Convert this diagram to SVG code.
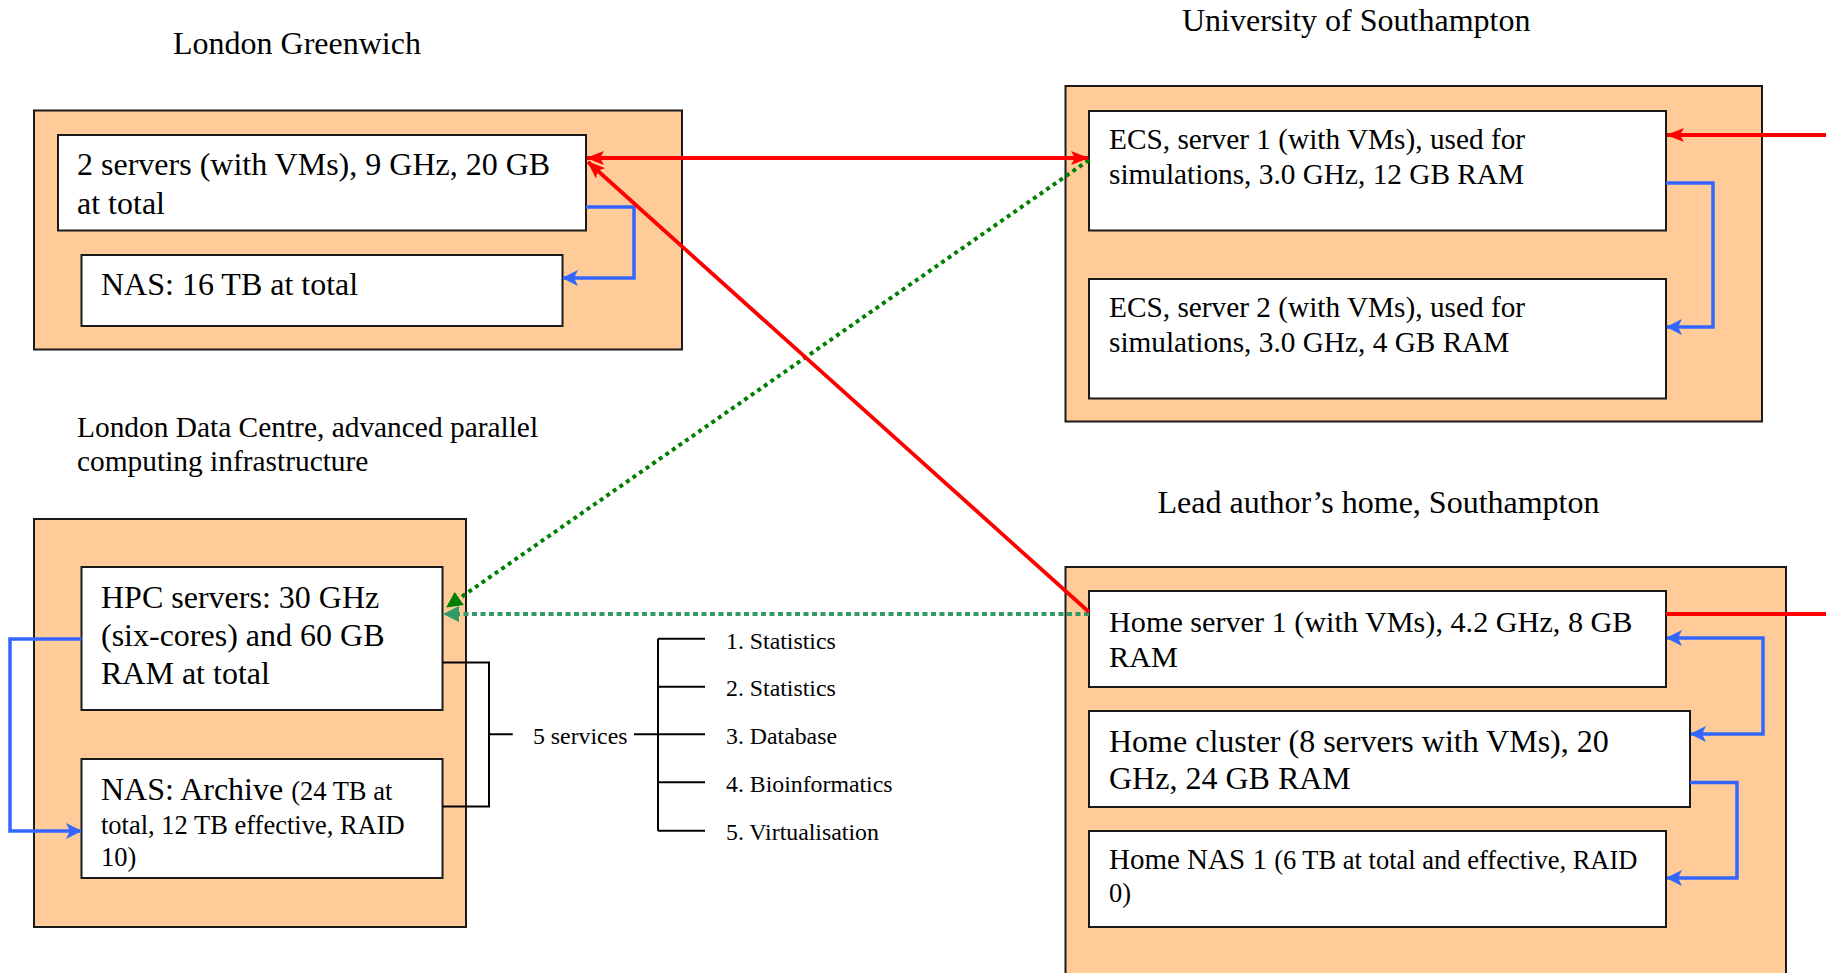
<svg xmlns="http://www.w3.org/2000/svg" width="1826" height="973" viewBox="0 0 1826 973">
  <defs>
    <style>
      .site { fill: #ffcc99; stroke: #1a1a1a; stroke-width: 2; }
      .box { fill: #ffffff; stroke: #1a1a1a; stroke-width: 2; }
      text { font-family: "Liberation Serif", "Times New Roman", serif; fill: #000; }
      .red { fill: none; stroke: #ff0000; stroke-width: 3.8; }
      .blue { fill: none; stroke: #3366ff; stroke-width: 3.5; }
      .green { fill: none; stroke: #008000; stroke-width: 4; stroke-dasharray: 4 4; }
      .sea { fill: none; stroke: #339966; stroke-width: 4; stroke-dasharray: 5 3.5; }
      .tree { fill: none; stroke: #000; stroke-width: 2; }
    </style>
    <marker id="ahRed" viewBox="0 0 18 14" refX="17" refY="7" markerWidth="18" markerHeight="14" markerUnits="userSpaceOnUse" orient="auto-start-reverse">
      <path d="M0,0 L18,7 L0,14 L4,7 z" fill="#ff0000"/>
    </marker>
    <marker id="ahBlue" viewBox="0 0 16 16" refX="15" refY="8" markerWidth="16" markerHeight="16" markerUnits="userSpaceOnUse" orient="auto-start-reverse">
      <path d="M0,0 L16,8 L0,16 L4,8 z" fill="#3366ff"/>
    </marker>
    <marker id="ahGreen" viewBox="0 0 16 16" refX="15" refY="8" markerWidth="16" markerHeight="16" markerUnits="userSpaceOnUse" orient="auto">
      <path d="M0,0 L16,8 L0,16 z" fill="#008000"/>
    </marker>
    <marker id="ahSea" viewBox="0 0 16 16" refX="15" refY="8" markerWidth="16" markerHeight="16" markerUnits="userSpaceOnUse" orient="auto">
      <path d="M0,0 L16,8 L0,16 z" fill="#339966"/>
    </marker>
  </defs>

  <rect width="1826" height="973" fill="#ffffff"/>

  <!-- London Greenwich -->
  <g id="greenwich">
    <text x="173" y="54" font-size="32">London Greenwich</text>
    <rect class="site" x="34" y="110.5" width="648" height="239"/>
    <g id="greenwich-servers">
      <rect class="box" x="58" y="135" width="528" height="95.5"/>
      <text x="77" y="175" font-size="32">2 servers (with VMs), 9 GHz, 20 GB</text>
      <text x="77" y="214" font-size="32">at total</text>
    </g>
    <g id="greenwich-nas">
      <rect class="box" x="81.5" y="255" width="481" height="71"/>
      <text x="101" y="295" font-size="32">NAS: 16 TB at total</text>
    </g>
  </g>

  <!-- University of Southampton -->
  <g id="southampton">
    <text x="1182" y="31" font-size="32">University of Southampton</text>
    <rect class="site" x="1065.5" y="86" width="696.5" height="335.5"/>
    <g id="ecs-server-1">
      <rect class="box" x="1089" y="111" width="577" height="119.5"/>
      <text x="1109" y="148.5" font-size="29.3">ECS, server 1 (with VMs), used for</text>
      <text x="1109" y="183.5" font-size="29.3">simulations, 3.0 GHz, 12 GB RAM</text>
    </g>
    <g id="ecs-server-2">
      <rect class="box" x="1089" y="279" width="577" height="119.5"/>
      <text x="1109" y="316.5" font-size="29.3">ECS, server 2 (with VMs), used for</text>
      <text x="1109" y="351.5" font-size="29.3">simulations, 3.0 GHz, 4 GB RAM</text>
    </g>
  </g>

  <!-- London Data Centre -->
  <g id="data-centre">
    <text x="77" y="437" font-size="29.4">London Data Centre, advanced parallel</text>
    <text x="77" y="471" font-size="29.4">computing infrastructure</text>
    <rect class="site" x="34" y="519" width="432" height="408"/>
    <g id="hpc-servers">
      <rect class="box" x="81.5" y="567" width="361" height="143"/>
      <text x="101" y="607.5" font-size="32">HPC servers: 30 GHz</text>
      <text x="101" y="646" font-size="32">(six-cores) and 60 GB</text>
      <text x="101" y="684" font-size="32">RAM at total</text>
    </g>
    <g id="nas-archive">
      <rect class="box" x="81.5" y="759" width="361" height="119"/>
      <text x="101" y="800" font-size="32">NAS: Archive <tspan font-size="26.5">(24 TB at</tspan></text>
      <text x="101" y="833.5" font-size="26.5">total, 12 TB effective, RAID</text>
      <text x="101" y="866" font-size="26.5">10)</text>
    </g>
  </g>

  <!-- Services list -->
  <g id="services">
    <text x="533" y="743.5" font-size="23.8">5 services</text>
    <text x="726" y="648.5" font-size="23.8">1. Statistics</text>
    <text x="726" y="696" font-size="23.8">2. Statistics</text>
    <text x="726" y="743.5" font-size="23.8">3. Database</text>
    <text x="726" y="792" font-size="23.8">4. Bioinformatics</text>
    <text x="726" y="839.5" font-size="23.8">5. Virtualisation</text>
  </g>

  <!-- Lead author's home -->
  <g id="home">
    <text x="1157.5" y="513" font-size="32">Lead author’s home, Southampton</text>
    <rect class="site" x="1065.5" y="567" width="720.5" height="420"/>
    <g id="home-server-1">
      <rect class="box" x="1089" y="591" width="577" height="96"/>
      <text x="1109" y="632" font-size="30.2">Home server 1 (with VMs), 4.2 GHz, 8 GB</text>
      <text x="1109" y="667" font-size="30.2">RAM</text>
    </g>
    <g id="home-cluster">
      <rect class="box" x="1089" y="711" width="601" height="96"/>
      <text x="1109" y="752" font-size="32">Home cluster (8 servers with VMs), 20</text>
      <text x="1109" y="788.5" font-size="32">GHz, 24 GB RAM</text>
    </g>
    <g id="home-nas-1">
      <rect class="box" x="1089" y="831" width="577" height="96"/>
      <text x="1109" y="868.5" font-size="29">Home NAS 1 <tspan font-size="26.5">(6 TB at total and effective, RAID</tspan></text>
      <text x="1109" y="902" font-size="26.5">0)</text>
    </g>
  </g>

  <!-- Connectors -->
  <g id="connectors">
    <!-- service bracket and tree -->
    <path class="tree" d="M442.5,662.6 H489 V806.5 H442.5 M489,734.3 H512.7"/>
    <path class="tree" d="M634,734.3 H705 M658,638.7 V830.7 M658,638.7 H705 M658,686.7 H705 M658,782.3 H705 M658,830.7 H705"/>

    <!-- local links -->
    <path class="blue" d="M586,207 H634 V278 H563" marker-end="url(#ahBlue)"/>
    <path class="blue" d="M1666,183 H1713 V327 H1667" marker-end="url(#ahBlue)"/>
    <path class="blue" d="M81.5,639 H10 V831 H81" marker-end="url(#ahBlue)"/>
    <path class="blue" d="M1667,638 H1763 V734 H1691" marker-start="url(#ahBlue)" marker-end="url(#ahBlue)"/>
    <path class="blue" d="M1690,782.5 H1737 V878 H1667" marker-end="url(#ahBlue)"/>

    <!-- dotted links to the data centre -->
    <path class="green" d="M1089,160 L447,607" marker-end="url(#ahGreen)"/>
    <path class="sea" d="M1089,614 L444,614" marker-end="url(#ahSea)"/>

    <!-- wide-area links -->
    <path class="red" d="M587,158 H1088" marker-start="url(#ahRed)" marker-end="url(#ahRed)"/>
    <path class="red" d="M1089,612 L588,162" marker-end="url(#ahRed)"/>
    <path class="red" d="M1826,135 H1667" marker-end="url(#ahRed)"/>
    <path class="red" d="M1666,614 H1826"/>
  </g>
</svg>
